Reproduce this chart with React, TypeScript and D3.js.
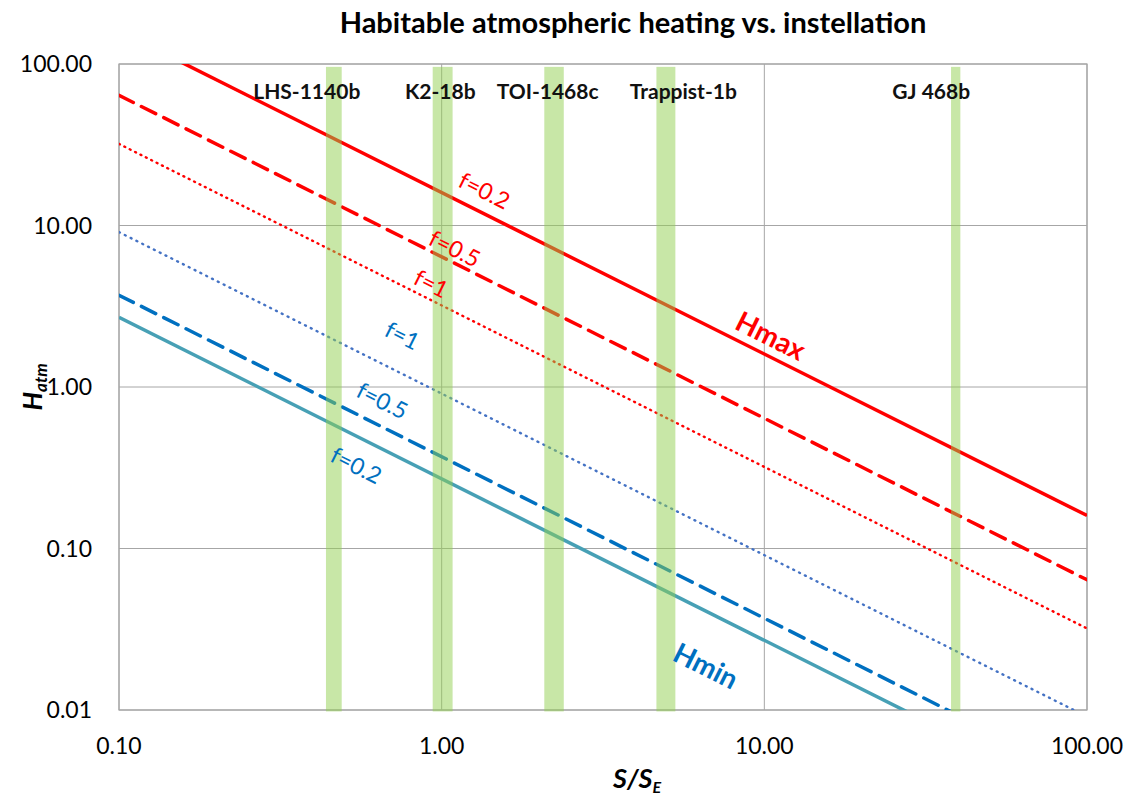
import React from 'react';
import * as d3 from 'd3';

// instellation range used for every curve (S/S_E)
const sRange = [0.1, 100];

// H_atm read at S = 0.1 and S = 100
const curves = [
  { name: 'Hmax f=0.2', values: [160, 0.16], color: '#ff0000', width: 3.5, dash: null },
  { name: 'Hmax f=0.5', values: [64, 0.064], color: '#ff0000', width: 3.5, dash: '16 9' },
  { name: 'Hmax f=1', values: [32, 0.032], color: '#ff0000', width: 2.4, dash: '1 5' },
  { name: 'Hmin f=1', values: [9.1, 0.0091], color: '#4472c4', width: 2.4, dash: '1 5.5' },
  { name: 'Hmin f=0.5', values: [3.7, 0.0037], color: '#0070c0', width: 3.5, dash: '16 9' },
  { name: 'Hmin f=0.2', values: [2.7, 0.0027], color: '#47a0b5', width: 3.5, dash: null },
];

// planets: instellation band (lo, hi) and label anchor
const planets = [
  { name: 'LHS-1140b', lo: 0.438, hi: 0.49, labelS: 0.382 },
  { name: 'K2-18b', lo: 0.938, hi: 1.081, labelS: 0.99 },
  { name: 'TOI-1468c', lo: 2.08, hi: 2.39, labelS: 2.13 },
  { name: 'Trappist-1b', lo: 4.63, hi: 5.3, labelS: 5.61 },
  { name: 'GJ 468b', lo: 37.9, hi: 40.5, labelS: 32.9 },
];
const bandTop = 96;
const bandBottom = 0.0098;

// curve annotations (data coords)
const notes = [
  { text: 'f=0.2', s: 1.36, h: 16.6, color: '#ff0000', bold: false },
  { text: 'f=0.5', s: 1.1, h: 7.26, color: '#ff0000', bold: false },
  { text: 'f=1', s: 0.93, h: 4.41, color: '#ff0000', bold: false },
  { text: 'Hmax', s: 10.5, h: 2.1, color: '#ff0000', bold: true },
  { text: 'f=1', s: 0.757, h: 2.1, color: '#0070c0', bold: false },
  { text: 'f=0.5', s: 0.656, h: 0.831, color: '#0070c0', bold: false },
  { text: 'f=0.2', s: 0.545, h: 0.33, color: '#0070c0', bold: false },
  { text: 'Hmin', s: 6.61, h: 0.019, color: '#0070c0', bold: true },
];

const xTicks = [0.1, 1, 10, 100];
const yTicks = [0.01, 0.1, 1, 10, 100];

const W = 1133;
const H = 802;
const margin = { top: 64, right: 46, bottom: 92, left: 119 };
const font = 'Lato, "Open Sans", sans-serif';

export default function App() {
  const x = d3.scaleLog().domain([0.1, 100]).range([margin.left, W - margin.right]);
  const y = d3.scaleLog().domain([0.01, 100]).range([H - margin.bottom, margin.top]);
  const [x0, x1] = x.range();
  const [y0, y1] = y.range();

  const line = d3
    .line<[number, number]>()
    .x((d) => x(d[0]))
    .y((d) => y(d[1]));

  // angle of a 1/S line in pixel space
  const angle =
    (Math.atan2(y(0.1) - y(1), x(10) - x(1)) * 180) / Math.PI;

  return (
    <svg width={W} height={H} style={{ position: 'absolute', left: 0, top: 0, background: '#fff' }}>
      <defs>
        <clipPath id="plot">
          <rect x={x0} y={y1} width={x1 - x0} height={y0 - y1} />
        </clipPath>
      </defs>

      <text x={633} y={33} textAnchor="middle" fontFamily={font} fontWeight="bold" fontSize={29} fill="#000">
        Habitable atmospheric heating vs. instellation
      </text>

      {/* gridlines */}
      {yTicks.map((t) => (
        <line key={'gy' + t} x1={x0} x2={x1} y1={y(t)} y2={y(t)} stroke="#a6a6a6" strokeWidth={1} />
      ))}
      {xTicks.map((t) => (
        <line key={'gx' + t} x1={x(t)} x2={x(t)} y1={y0} y2={y1} stroke="#a6a6a6" strokeWidth={1} />
      ))}
      <rect x={x0} y={y1} width={x1 - x0} height={y0 - y1} fill="none" stroke="#a6a6a6" strokeWidth={1.2} />

      {/* curves */}
      <g clipPath="url(#plot)">
        {curves.map((c) => (
          <path
            key={c.name}
            d={line([
              [sRange[0], c.values[0]],
              [sRange[1], c.values[1]],
            ]) as string}
            fill="none"
            stroke={c.color}
            strokeWidth={c.width}
            strokeDasharray={c.dash || undefined}
            strokeLinecap={c.dash && c.dash.startsWith('1') ? 'round' : 'butt'}
          />
        ))}
      </g>

      {/* planet bands */}
      {planets.map((p) => (
        <rect
          key={p.name}
          x={x(p.lo)}
          width={x(p.hi) - x(p.lo)}
          y={y(bandTop)}
          height={y(bandBottom) - y(bandTop)}
          fill="#92d050"
          fillOpacity={0.5}
        />
      ))}
      {planets.map((p) => (
        <text
          key={'l' + p.name}
          x={x(p.labelS)}
          y={99}
          textAnchor="middle"
          fontFamily={font}
          fontWeight="bold"
          fontSize={21}
          fill="#111"
        >
          {p.name}
        </text>
      ))}

      {/* curve labels */}
      {notes.map((n, i) => (
        <text
          key={'n' + i}
          transform={`translate(${x(n.s)},${y(n.h)}) rotate(${angle})`}
          textAnchor="middle"
          dominantBaseline="central"
          fontFamily={font}
          fontWeight={n.bold ? 'bold' : 'normal'}
          fontSize={n.bold ? 28 : 23}
          fill={n.color}
        >
          {n.text}
        </text>
      ))}

      {/* y tick labels */}
      {yTicks.map((t) => (
        <text key={'ty' + t} x={92} y={y(t) + 8} textAnchor="end" fontFamily={font} fontSize={23} fill="#000">
          {d3.format('.2f')(t)}
        </text>
      ))}
      {/* x tick labels */}
      {xTicks.map((t) => (
        <text key={'tx' + t} x={x(t)} y={754} textAnchor="middle" fontFamily={font} fontSize={23} fill="#000">
          {d3.format('.2f')(t)}
        </text>
      ))}

      {/* axis titles */}
      <text x={613} y={788} fontFamily={font} fontWeight="bold" fontStyle="italic" fontSize={27} fill="#000">
        S/S<tspan fontSize={16} dy={5}>E</tspan>
      </text>
      <text
        transform={`translate(42,${(y0 + y1) / 2}) rotate(-90)`}
        textAnchor="middle"
        fontFamily={font}
        fontWeight="bold"
        fontStyle="italic"
        fontSize={26}
        fill="#000"
      >
        H<tspan fontSize={17} dy={5}>atm</tspan>
      </text>
    </svg>
  );
}
